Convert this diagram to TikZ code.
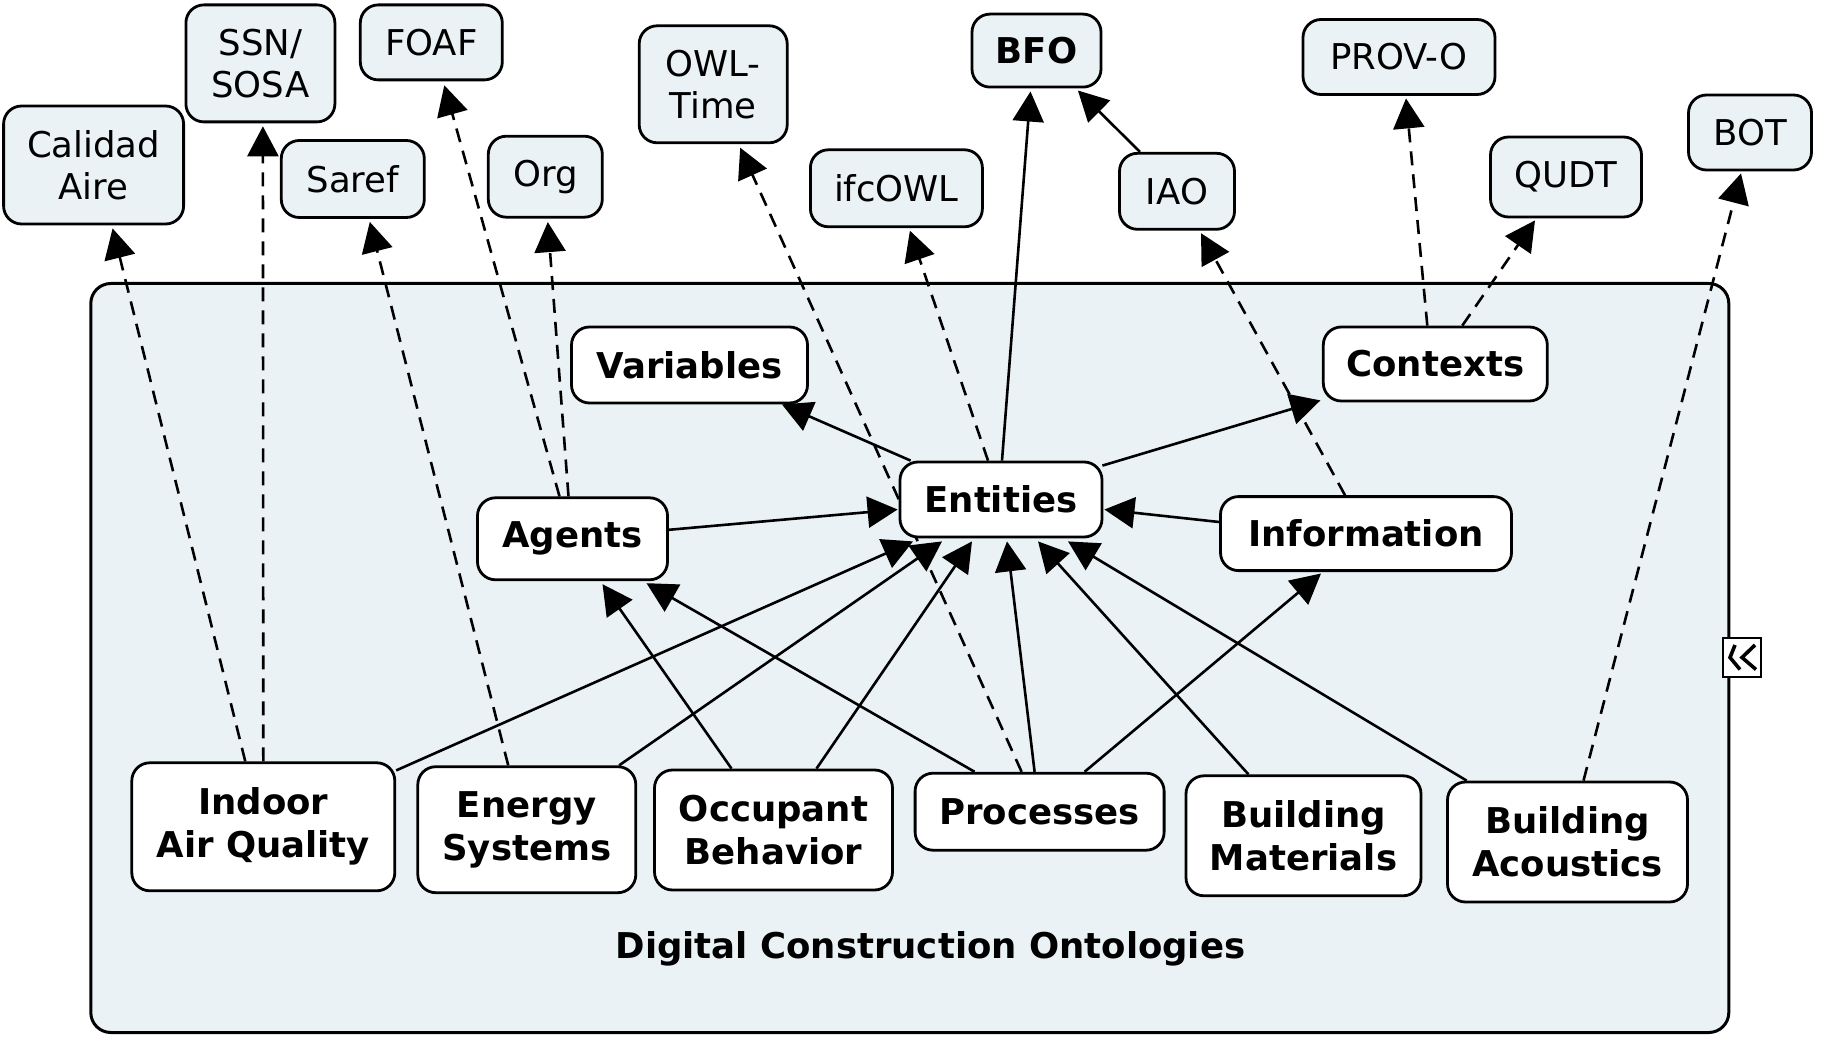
\documentclass[tikz,border=0pt]{standalone}
\usepackage{fontspec}
\setmainfont{DejaVu Sans}
\usetikzlibrary{arrows.meta,calc}
\definecolor{pale}{RGB}{234,242,245}
\pgfdeclarelayer{back}
\pgfdeclarelayer{edges}
\pgfsetlayers{back,edges,main}
\begin{document}
\begin{tikzpicture}[x=1pt,y=-1pt,
  ext/.style={draw,line width=2.8pt,fill=pale,rounded corners=18pt,inner sep=0pt,align=center,font=\fontsize{35.5}{42}\selectfont},
  cpt/.style={draw,line width=2.8pt,fill=white,rounded corners=18pt,inner sep=0pt,align=center,font=\fontsize{35.5}{43}\selectfont\bfseries},
  arr/.style={line width=2.6pt,-{Triangle[length=30pt,width=31pt]}},
  dep/.style={arr,dash pattern=on 14pt off 9pt}]
\useasboundingbox (0,0) rectangle (1823,1040);

% container
\begin{pgfonlayer}{back}
\node[draw,line width=3pt,fill=pale,rounded corners=20pt,minimum width=1638pt,minimum height=749pt,inner sep=0pt] (dco) at (909.8,658) {};
\end{pgfonlayer}
\node[font=\fontsize{35.5}{42}\selectfont\bfseries] (lbl) at (930.5,949) {Digital Construction Ontologies};

% external ontologies
\node[ext,minimum width=180pt,minimum height=118pt] (cal) at (93.6,165) {Calidad\\Aire};
\node[ext,minimum width=149pt,minimum height=117pt] (ssn) at (260.4,63.4) {SSN/\\SOSA};
\node[ext,minimum width=142pt,minimum height=75pt] (foaf) at (431.3,42.4) {FOAF};
\node[ext,minimum width=143pt,minimum height=77pt] (saref) at (352.8,179) {Saref};
\node[ext,minimum width=114pt,minimum height=81pt] (org) at (545.3,176.7) {Org};
\node[ext,minimum width=148pt,minimum height=117pt] (owl) at (713.2,84.3) {OWL-\\Time};
\node[ext,minimum width=172pt,minimum height=77pt] (ifc) at (896.4,188.3) {ifcOWL};
\node[ext,minimum width=129pt,minimum height=73pt,font=\fontsize{35.5}{42}\selectfont\bfseries] (bfo) at (1036.5,50.6) {BFO};
\node[ext,minimum width=115pt,minimum height=76pt] (iao) at (1177,191.3) {IAO};
\node[ext,minimum width=192pt,minimum height=75pt] (prov) at (1399,57) {PROV-O};
\node[ext,minimum width=151pt,minimum height=80pt] (qudt) at (1566,177) {QUDT};
\node[ext,minimum width=123pt,minimum height=75pt] (bot) at (1750,132.5) {BOT};

% core concepts
\node[cpt,minimum width=236pt,minimum height=76pt] (var) at (689.5,365) {Variables};
\node[cpt,minimum width=224pt,minimum height=74pt] (ctx) at (1435.3,364) {Contexts};
\node[cpt,minimum width=202pt,minimum height=75pt] (ent) at (1001,499.5) {Entities};
\node[cpt,minimum width=190pt,minimum height=82pt] (agt) at (572.5,538.8) {Agents};
\node[cpt,minimum width=291pt,minimum height=74pt] (inf) at (1366,533.6) {Information};
\node[cpt,minimum width=263pt,minimum height=128pt] (iaq) at (263.3,826.8) {Indoor\\Air Quality};
\node[cpt,minimum width=218pt,minimum height=126pt] (ene) at (526.8,829.7) {Energy\\Systems};
\node[cpt,minimum width=238pt,minimum height=120pt] (occ) at (773.5,830) {Occupant\\Behavior};
\node[cpt,minimum width=249pt,minimum height=77pt] (pro) at (1039.6,811.7) {Processes};
\node[cpt,minimum width=235pt,minimum height=120pt] (mat) at (1303.5,835.8) {Building\\Materials};
\node[cpt,minimum width=240pt,minimum height=120pt] (aco) at (1567.5,842) {Building\\Acoustics};

% collapse icon
\node[draw,line width=2.5pt,fill=white,minimum width=38pt,minimum height=39pt,inner sep=0pt] (ico) at (1742,657.5) {};
\draw[line width=3.6pt] ($(ico.center)+(-7,-12.5)$) -- ($(ico.center)+(-12,0)$) -- ($(ico.center)+(-2,12)$);
\draw[line width=3.6pt] ($(ico.center)+(13,-12.5)$) -- ($(ico.center)+(0,0)$) -- ($(ico.center)+(14,12)$);

\begin{pgfonlayer}{edges}
% dashed links to external ontologies
\draw[dep] ($(iaq.north)+(-18,0)$) -- ($(cal.south)+(19,3)$);
\draw[dep] (iaq.north) -- ($(ssn.south)+(2.5,3)$);
\draw[dep] ($(ene.north)+(-18.6,0)$) -- ($(saref.south)+(17,3)$);
\draw[dep] ($(agt.north)+(-13,0)$) -- ($(foaf.south)+(13,4)$);
\draw[dep] ($(agt.north)+(-4,0)$) -- ($(org.south)+(2.5,3.5)$);
\draw[dep] ($(pro.north)+(-18,0)$) -- ($(owl.south)+(27,3.5)$);
\draw[dep] ($(ent.north)+(-13,0)$) -- ($(ifc.south)+(13.5,2.5)$);
\draw[dep] ($(inf.north)+(-21,0)$) -- ($(iao.south)+(24,2.5)$);
\draw[dep] ($(ctx.north)+(-8,0)$) -- ($(prov.south)+(7,2.5)$);
\draw[dep] ($(ctx.north)+(27,0)$) -- ($(qudt.south)+(-31,2)$);
\draw[dep] ($(aco.north)+(16,0)$) -- ($(bot.south)+(-9,2)$);
% solid links
\draw[arr] ($(ent.north)+(1,0)$) -- ($(bfo.south)+(-6,3)$);
\draw[arr] ($(iao.north)+(-37,0)$) -- ($(bfo.south east)+(-24.5,2)$);
\draw[arr] ($(ent.north west)+(12,0)$) -- ($(var.south east)+(-27,0)$);
\draw[arr] ($(ent.north east)+(-1,5)$) -- ($(ctx.south west)+(-1.5,-2)$);
\draw[arr] ($(agt.east)+(0,-9)$) -- ($(ent.west)+(-1,10)$);
\draw[arr] ($(inf.west)+(0,-11.6)$) -- ($(ent.east)+(1,10)$);
\draw[arr] ($(iaq.north east)+(0,9)$) -- ($(ent.south)+(-88,3)$);
\draw[arr] ($(ene.north east)+(-18,0)$) -- ($(ent.south)+(-59,3)$);
\draw[arr] ($(occ.north)+(43,0)$) -- ($(ent.south)+(-29,3)$);
\draw[arr] ($(occ.north)+(-42,0)$) -- ($(agt.south)+(30,3)$);
\draw[arr] ($(pro.north)+(-65,0)$) -- ($(agt.south)+(74,2)$);
\draw[arr] ($(pro.north)+(-5,0)$) -- ($(ent.south)+(6,3)$);
\draw[arr] ($(pro.north)+(45,0)$) -- ($(inf.south)+(-45,1.5)$);
\draw[arr] ($(mat.north)+(-55,0)$) -- ($(ent.south)+(37,3)$);
\draw[arr] ($(aco.north west)+(20.5,0)$) -- ($(ent.south)+(67,3)$);
\end{pgfonlayer}
\end{tikzpicture}
\end{document}
